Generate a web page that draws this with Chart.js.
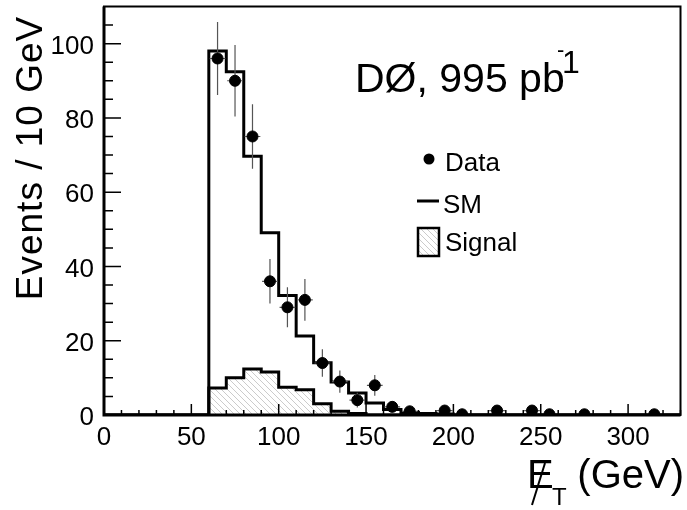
<!DOCTYPE html>
<html>
<head>
<meta charset="utf-8">
<script src="https://cdn.jsdelivr.net/npm/chart.js@4"></script>
<style>
  html, body { margin: 0; padding: 0; background: #fff; }
</style>
</head>
<body>
<canvas id="chart" width="687" height="510"></canvas>
<script>
// histogram bins (left edges, 10 GeV wide)
let binEdges = [60, 70, 80, 90, 100, 110, 120, 130, 140, 150, 160, 170, 180, 190, 200];
let smValues = [98, 92.4, 69.7, 49.1, 32.2, 21.3, 14.1, 8.9, 5.9, 3.2, 1.5, 0.7, 0.4, 0.3];
let signalValues = [7.3, 10.0, 12.4, 11.6, 7.5, 6.8, 3.0, 1.0, 0.4, 0, 0, 0, 0, 0];

// data points
let dataCenters = [65, 75, 85, 95, 105, 115, 125, 135, 145, 155, 165, 175, 195, 205, 225, 245, 255, 275, 315];
let dataValues = [96, 90, 75, 36, 29, 31, 14, 9, 4, 8, 2.2, 1, 1.2, 0.2, 1.2, 1.2, 0.2, 0.2, 0.2];
let dataErrors = [9.8, 9.6, 8.7, 6.0, 5.4, 5.6, 3.7, 3.0, 2.0, 2.8, 1.5, 1.0, 1.0, 0.5, 1.0, 1.0, 0.5, 0.5, 0.5];
let dataHalfWidth = 4.5;

let xTicks = [0, 50, 100, 150, 200, 250, 300];
let yTicks = [0, 20, 40, 60, 80, 100];
let xRange = [0, 330];
let yRange = [0, 110];

const FONT = "'Liberation Sans', Arial, Helvetica, sans-serif";

function histogramPoints(values) {
    let points = [{x: xRange[0], y: 0}];
    for (let i = 0; i < values.length; i++) {
        points.push({x: binEdges[i], y: values[i]});
    }
    points.push({x: binEdges[values.length], y: 0});
    points.push({x: xRange[1], y: 0});
    return points;
}

function createHatch(ctx) {
    let size = 6;
    let tile = document.createElement("canvas");
    tile.width = size;
    tile.height = size;
    let t = tile.getContext("2d");
    t.strokeStyle = "#b4b4b4";
    t.lineWidth = 0.7;
    t.beginPath();
    for (let offset of [-size, 0, size]) {
        t.moveTo(offset, 0);
        t.lineTo(offset + size, size);
    }
    t.stroke();
    return ctx.createPattern(tile, "repeat");
}

let decorations = {
    id: "decorations",
    beforeDatasetDraw(chart, args) {
        if (args.index !== 0) return;
        let ctx = chart.ctx;
        let xs = chart.scales.x;
        let ys = chart.scales.y;
        ctx.save();
        ctx.strokeStyle = "#555";
        ctx.lineWidth = 1.2;
        ctx.beginPath();
        for (let i = 0; i < dataCenters.length; i++) {
            let px = xs.getPixelForValue(dataCenters[i]);
            let py = ys.getPixelForValue(dataValues[i]);
            ctx.moveTo(px, ys.getPixelForValue(dataValues[i] - dataErrors[i]));
            ctx.lineTo(px, ys.getPixelForValue(dataValues[i] + dataErrors[i]));
            ctx.moveTo(xs.getPixelForValue(dataCenters[i] - dataHalfWidth), py);
            ctx.lineTo(xs.getPixelForValue(dataCenters[i] + dataHalfWidth), py);
        }
        ctx.stroke();
        ctx.restore();
    },
    afterDraw(chart) {
        let ctx = chart.ctx;
        let area = chart.chartArea;
        let xs = chart.scales.x;
        let ys = chart.scales.y;
        ctx.save();

        // frame
        ctx.strokeStyle = "#000";
        ctx.lineWidth = 2;
        ctx.strokeRect(area.left, area.top, area.right - area.left, area.bottom - area.top);
        ctx.lineWidth = 3;
        ctx.beginPath();
        ctx.moveTo(area.left, area.top);
        ctx.lineTo(area.left, area.bottom);
        ctx.lineTo(area.right, area.bottom);
        ctx.stroke();

        // inner ticks
        ctx.lineWidth = 1.5;
        ctx.beginPath();
        for (let v = yRange[0]; v < yRange[1]; v += 5) {
            let py = ys.getPixelForValue(v);
            let len = yTicks.includes(v) ? 17 : 9;
            ctx.moveTo(area.left, py);
            ctx.lineTo(area.left + len, py);
        }
        for (let v = xRange[0]; v <= xRange[1]; v += 10) {
            let px = xs.getPixelForValue(v);
            let len = xTicks.includes(v) ? 11 : 5;
            ctx.moveTo(px, area.bottom);
            ctx.lineTo(px, area.bottom - len);
        }
        ctx.stroke();

        // y title
        ctx.fillStyle = "#000";
        ctx.save();
        ctx.translate(42, 158);
        ctx.rotate(-Math.PI / 2);
        ctx.font = "37px " + FONT;
        ctx.letterSpacing = "1px";
        ctx.textAlign = "center";
        ctx.textBaseline = "alphabetic";
        ctx.fillText("Events / 10 GeV", 0, 0);
        ctx.restore();

        // x title: missing E_T
        ctx.font = "40px " + FONT;
        ctx.textAlign = "left";
        ctx.textBaseline = "alphabetic";
        ctx.fillText("E", 527, 488);
        ctx.textAlign = "right";
        ctx.fillText("(GeV)", 684, 488);
        ctx.textAlign = "left";
        ctx.font = "24px " + FONT;
        ctx.fillText("T", 552, 505);
        ctx.lineWidth = 2;
        ctx.beginPath();
        ctx.moveTo(545, 463);
        ctx.lineTo(532, 505);
        ctx.stroke();

        // experiment label
        ctx.font = "41px " + FONT;
        ctx.fillText("D\u00d8, 995 pb", 355, 92);
        ctx.font = "22px " + FONT;
        ctx.fillText("-", 557, 57);
        ctx.font = "32px " + FONT;
        ctx.fillText("1", 562, 73);

        // legend
        ctx.font = "26px " + FONT;
        ctx.beginPath();
        ctx.arc(429, 159, 5.5, 0, Math.PI * 2);
        ctx.fill();
        ctx.fillText("Data", 445, 171);
        ctx.lineWidth = 3;
        ctx.beginPath();
        ctx.moveTo(417, 201);
        ctx.lineTo(439, 201);
        ctx.stroke();
        ctx.fillText("SM", 443, 213);
        ctx.fillStyle = createHatch(ctx);
        ctx.fillRect(418, 228, 21, 28);
        ctx.lineWidth = 2.5;
        ctx.strokeRect(418, 228, 21, 28);
        ctx.fillStyle = "#000";
        ctx.fillText("Signal", 445, 251);

        ctx.restore();
    }
};

let ctx = document.getElementById("chart").getContext("2d");

let chart = new Chart(ctx, {
    type: "scatter",
    data: {
        datasets: [
            {
                label: "Data",
                data: dataCenters.map((c, i) => ({x: c, y: dataValues[i]})),
                backgroundColor: "#000",
                borderColor: "#000",
                pointRadius: 5.5,
                pointHoverRadius: 5.5,
                showLine: false,
                order: 0
            },
            {
                label: "SM",
                type: "line",
                data: histogramPoints(smValues),
                stepped: "before",
                borderColor: "#000",
                borderWidth: 3,
                pointRadius: 0,
                fill: false,
                order: 1
            },
            {
                label: "Signal",
                type: "line",
                data: histogramPoints(signalValues),
                stepped: "before",
                borderColor: "#000",
                borderWidth: 3,
                pointRadius: 0,
                fill: "origin",
                backgroundColor: createHatch(ctx),
                order: 2
            }
        ]
    },
    options: {
        responsive: false,
        animation: false,
        layout: {
            padding: {top: 6, right: 2, left: 0, bottom: 0}
        },
        plugins: {
            legend: {display: false},
            tooltip: {enabled: false}
        },
        scales: {
            x: {
                type: "linear",
                min: xRange[0],
                max: xRange[1],
                grid: {display: false, drawTicks: false},
                border: {display: false},
                afterBuildTicks: (scale) => { scale.ticks = xTicks.map(v => ({value: v})); },
                afterFit: (scale) => {
                    scale.height = 95;
                    scale.paddingLeft = 0;
                    scale.paddingRight = 0;
                },
                ticks: {
                    color: "#000",
                    padding: 7,
                    maxRotation: 0,
                    font: {family: FONT, size: 26}
                }
            },
            y: {
                type: "linear",
                min: yRange[0],
                max: yRange[1],
                grid: {display: false, drawTicks: false},
                border: {display: false},
                afterBuildTicks: (scale) => { scale.ticks = yTicks.map(v => ({value: v})); },
                afterFit: (scale) => {
                    scale.width = 104;
                    scale.paddingTop = 0;
                    scale.paddingBottom = 0;
                },
                ticks: {
                    color: "#000",
                    padding: 10,
                    labelOffset: 3,
                    font: {family: FONT, size: 26}
                }
            }
        }
    },
    plugins: [decorations]
});
</script>
</body>
</html>
